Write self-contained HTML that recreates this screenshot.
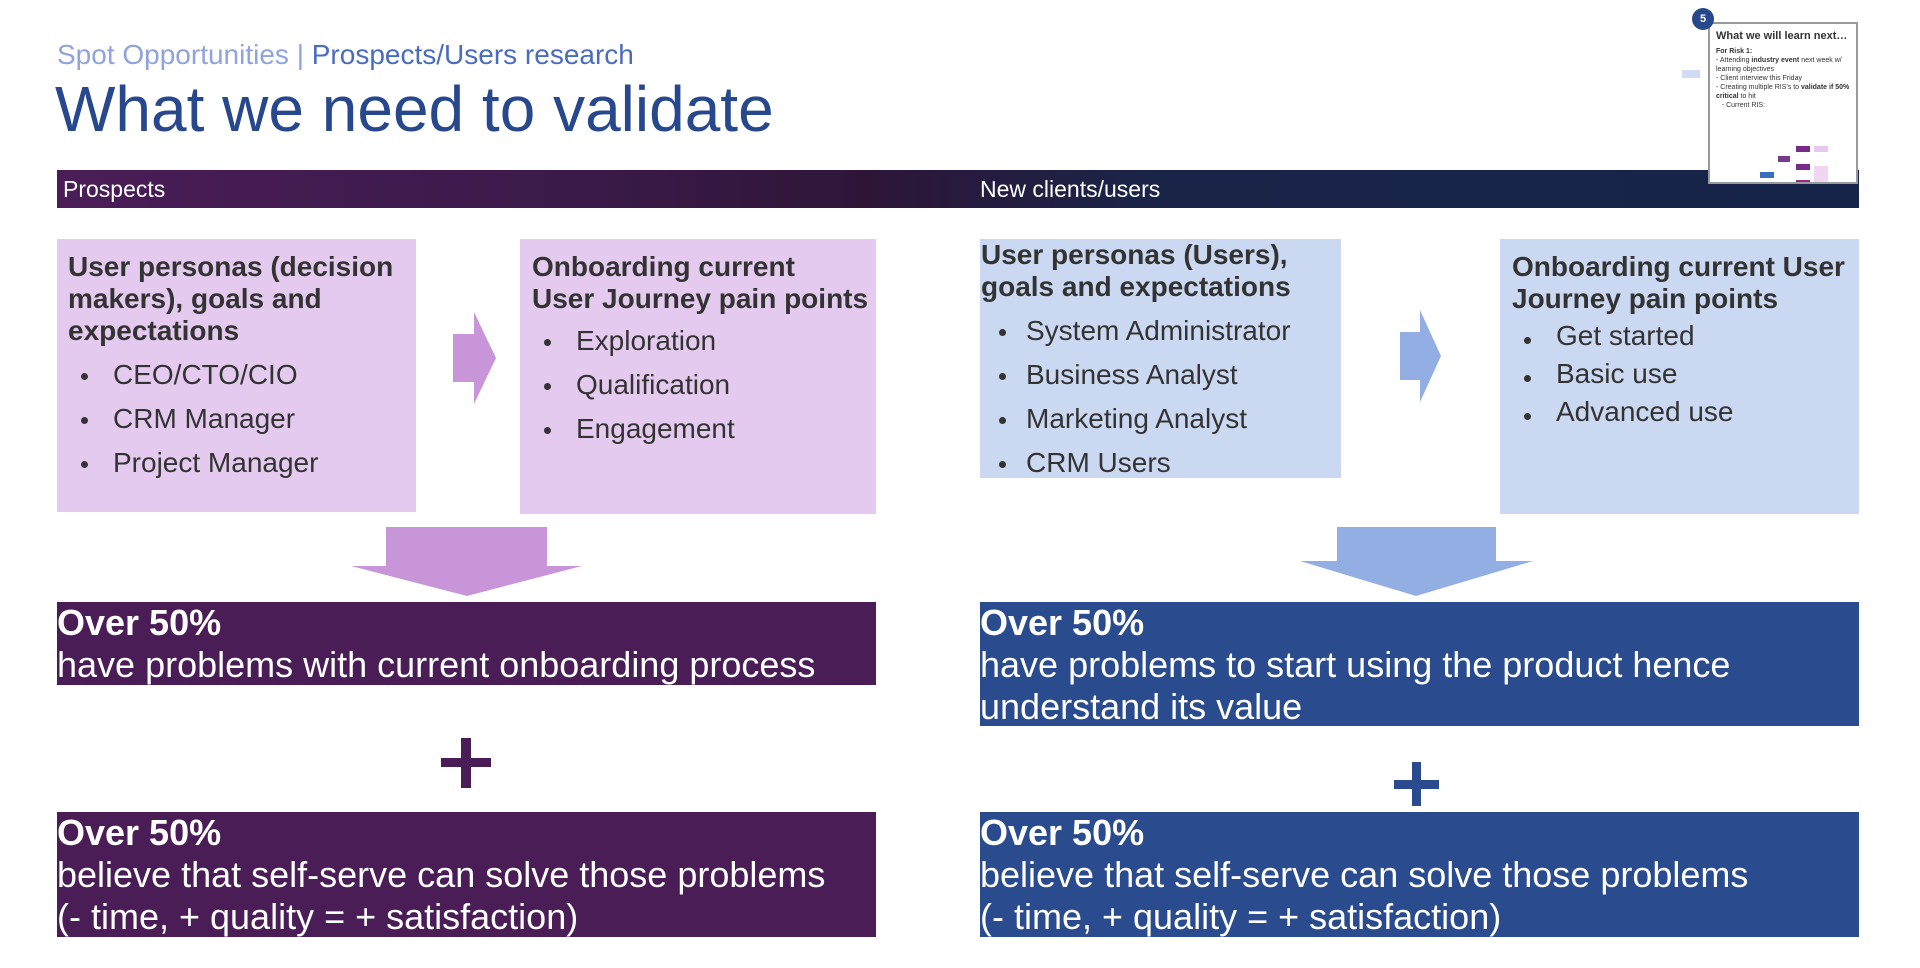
<!DOCTYPE html>
<html><head><meta charset="utf-8"><style>
*{margin:0;padding:0;box-sizing:border-box}
body{width:1920px;height:968px;background:#fff;position:relative;overflow:hidden;font-family:"Liberation Sans",Arial,sans-serif}
.a{position:absolute}
.sub{left:57px;top:39px;font-size:28px;color:#8fa3dd}
.sub span{color:#4a6cc0}
.title{left:55px;top:72px;font-size:64px;color:#27488c}
.bar{left:57px;top:170px;width:1802px;height:38px;background:linear-gradient(90deg,#4a1d57 0%,#3a1a48 30%,#2e1538 45%,#1a2447 60%,#162449 100%)}
.bar span{position:absolute;top:6px;font-size:23px;color:#fff}
.lb{background:#e4caee;color:#333}
.bb{background:#cbd8f2;color:#333}
.h{font-weight:bold;font-size:28px;line-height:32px}
ul{list-style:none}
li{position:relative;font-size:28px;padding-left:56px}
li:before{content:"";position:absolute;left:24px;top:20px;width:7px;height:7px;border-radius:50%;background:#333}
.b3 li{padding-left:46px}
.b3 li:before{left:19px}
.dp{background:#4a1d57;color:#fff}
.dn{background:#2a4b8d;color:#fff}
.dk{font-size:36px;line-height:42px;padding-top:0;white-space:nowrap}
.dk b{display:block}
</style></head><body>
<div class="a sub">Spot Opportunities | <span>Prospects/Users research</span></div>
<div class="a title">What we need to validate</div>
<div class="a bar"><span style="left:6px">Prospects</span><span style="left:923px">New clients/users</span></div>

<!-- thumbnail -->
<div class="a" style="left:1708px;top:22px;width:150px;height:162px;background:#fff;border:2px solid #999;padding:6px 6px;font-size:10px;color:#333">
<div style="font-weight:bold;font-size:11px;line-height:13px">What we will learn next…</div>
<div style="font-size:7px;line-height:9px;margin-top:4px"><b>For Risk 1:</b><br>- Attending <b>industry event</b> next week w/ learning objectives<br>- Client interview this Friday<br>- Creating multiple RIS's to <b>validate if 50% critical</b> to hit<br>&nbsp;&nbsp;&nbsp;- Current RIS:</div>
<svg width="140" height="50" style="position:absolute;left:0;top:108px">
<rect x="50" y="40" width="14" height="6" fill="#3a6cc0"/>
<rect x="68" y="24" width="12" height="6" fill="#7a3a8a"/><rect x="68" y="54" width="12" height="6" fill="#9a3a9a"/>
<rect x="86" y="14" width="14" height="6" fill="#7a2a8a"/><rect x="86" y="32" width="14" height="6" fill="#7a2a8a"/>
<rect x="86" y="48" width="14" height="6" fill="#9a2a8a"/><rect x="86" y="62" width="14" height="6" fill="#9a2a8a"/>
<rect x="104" y="14" width="14" height="6" fill="#e4caee"/><rect x="104" y="34" width="14" height="30" fill="#f0d6f0"/>
</svg>
</div>
<div class="a" style="left:1692px;top:8px;width:22px;height:22px;border-radius:50%;background:#27488c;color:#fff;font-size:11px;font-weight:bold;text-align:center;line-height:22px">5</div>
<div class="a" style="left:1682px;top:70px;width:18px;height:8px;background:#cfdcf3"></div>

<!-- left column -->
<div class="a lb" style="left:57px;top:239px;width:359px;height:273px;padding:12px 0 0 11px">
<div class="h">User personas (decision makers), goals and expectations</div>
<ul style="margin-top:6px;line-height:44px;margin-left:-11px"><li>CEO/CTO/CIO</li><li>CRM Manager</li><li>Project Manager</li></ul>
</div>
<svg class="a" style="left:453px;top:312px" width="44" height="92"><polygon points="0,22 21,22 21,0 43,46 21,92 21,70 0,70" fill="#c896d8"/></svg>
<div class="a lb" style="left:520px;top:239px;width:356px;height:275px;padding:12px 0 0 12px">
<div class="h">Onboarding current<br>User Journey pain points</div>
<ul style="margin-top:4px;line-height:44px;margin-left:-12px"><li>Exploration</li><li>Qualification</li><li>Engagement</li></ul>
</div>
<svg class="a" style="left:351px;top:527px" width="232" height="70"><polygon points="35,0 196,0 196,39 231,39 116,69 0,39 35,39" fill="#c896d8"/></svg>
<div class="a dp dk" style="left:57px;top:602px;width:819px;height:83px"><b>Over 50%</b>have problems with current onboarding process</div>
<div class="a" style="left:441px;top:758px;width:50px;height:9px;background:#4a1d57"></div>
<div class="a" style="left:461px;top:738px;width:10px;height:50px;background:#4a1d57"></div>
<div class="a dp dk" style="left:57px;top:812px;width:819px;height:125px"><b>Over 50%</b>believe that self-serve can solve those problems<br>(- time, + quality = + satisfaction)</div>

<!-- right column -->
<div class="a bb b3" style="left:980px;top:239px;width:361px;height:239px;padding:0 0 0 1px">
<div class="h">User personas (Users),<br>goals and expectations</div>
<ul style="margin-top:6px;line-height:44px;margin-left:-1px"><li>System Administrator</li><li>Business Analyst</li><li>Marketing Analyst</li><li>CRM Users</li></ul>
</div>
<svg class="a" style="left:1400px;top:310px" width="42" height="92"><polygon points="0,22 20,22 20,0 41,46 20,92 20,70 0,70" fill="#93aee2"/></svg>
<div class="a bb" style="left:1500px;top:239px;width:359px;height:275px;padding:12px 0 0 12px">
<div class="h">Onboarding current User Journey pain points</div>
<ul style="margin-top:2px;line-height:38px;margin-left:-12px"><li>Get started</li><li>Basic use</li><li>Advanced use</li></ul>
</div>
<svg class="a" style="left:1300px;top:527px" width="234" height="70"><polygon points="37,0 196,0 196,34 233,34 116,69 0,34 37,34" fill="#93aee2"/></svg>
<div class="a dn dk" style="left:980px;top:602px;width:879px;height:124px"><b>Over 50%</b>have problems to start using the product hence<br>understand its value</div>
<div class="a" style="left:1394px;top:780px;width:45px;height:9px;background:#2a4b8d"></div>
<div class="a" style="left:1412px;top:762px;width:9px;height:44px;background:#2a4b8d"></div>
<div class="a dn dk" style="left:980px;top:812px;width:879px;height:125px"><b>Over 50%</b>believe that self-serve can solve those problems<br>(- time, + quality = + satisfaction)</div>
</body></html>
